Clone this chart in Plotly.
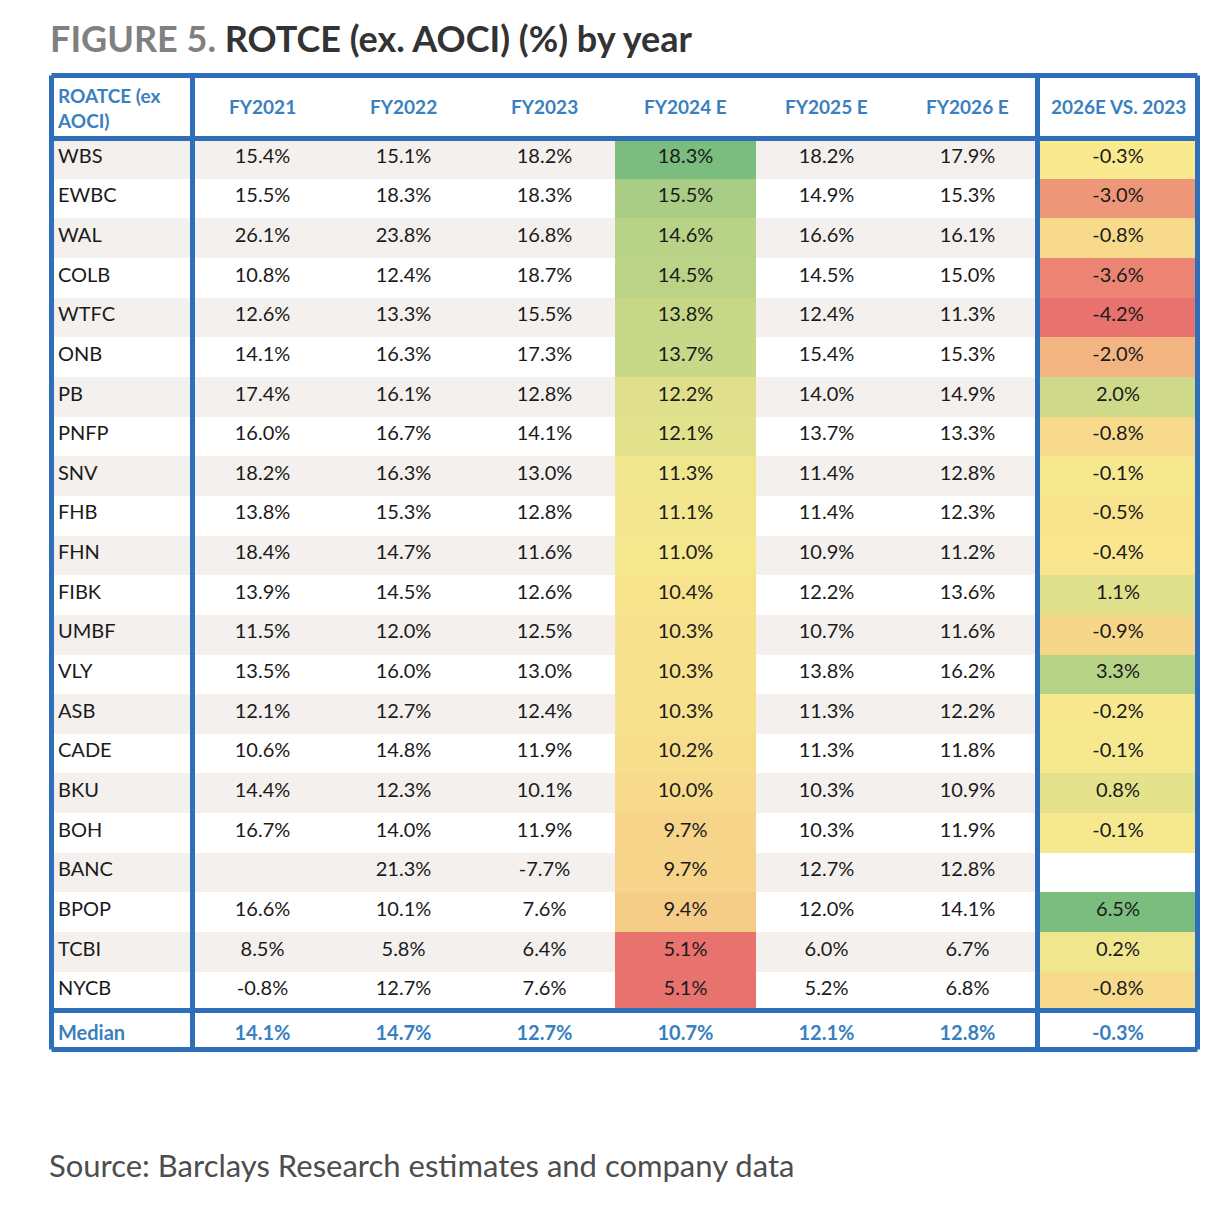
import numpy as np
import plotly.graph_objects as go

# ROTCE (ex. AOCI) by bank, %
tickers = ["WBS", "EWBC", "WAL", "COLB", "WTFC", "ONB", "PB", "PNFP", "SNV", "FHB", "FHN",
           "FIBK", "UMBF", "VLY", "ASB", "CADE", "BKU", "BOH", "BANC", "BPOP", "TCBI", "NYCB"]
fy2021 = [15.4, 15.5, 26.1, 10.8, 12.6, 14.1, 17.4, 16.0, 18.2, 13.8, 18.4,
          13.9, 11.5, 13.5, 12.1, 10.6, 14.4, 16.7, None, 16.6, 8.5, -0.8]
fy2022 = [15.1, 18.3, 23.8, 12.4, 13.3, 16.3, 16.1, 16.7, 16.3, 15.3, 14.7,
          14.5, 12.0, 16.0, 12.7, 14.8, 12.3, 14.0, 21.3, 10.1, 5.8, 12.7]
fy2023 = [18.2, 18.3, 16.8, 18.7, 15.5, 17.3, 12.8, 14.1, 13.0, 12.8, 11.6,
          12.6, 12.5, 13.0, 12.4, 11.9, 10.1, 11.9, -7.7, 7.6, 6.4, 7.6]
fy2024e = [18.3, 15.5, 14.6, 14.5, 13.8, 13.7, 12.2, 12.1, 11.3, 11.1, 11.0,
           10.4, 10.3, 10.3, 10.3, 10.2, 10.0, 9.7, 9.7, 9.4, 5.1, 5.1]
fy2025e = [18.2, 14.9, 16.6, 14.5, 12.4, 15.4, 14.0, 13.7, 11.4, 11.4, 10.9,
           12.2, 10.7, 13.8, 11.3, 11.3, 10.3, 10.3, 12.7, 12.0, 6.0, 5.2]
fy2026e = [17.9, 15.3, 16.1, 15.0, 11.3, 15.3, 14.9, 13.3, 12.8, 12.3, 11.2,
           13.6, 11.6, 16.2, 12.2, 11.8, 10.9, 11.9, 12.8, 14.1, 6.7, 6.8]
chg_2026_vs_2023 = [-0.3, -3.0, -0.8, -3.6, -4.2, -2.0, 2.0, -0.8, -0.1, -0.5, -0.4,
                    1.1, -0.9, 3.3, -0.2, -0.1, 0.8, -0.1, None, 6.5, 0.2, -0.8]
medians = [14.1, 14.7, 12.7, 10.7, 12.1, 12.8, -0.3]
headers = ["ROATCE (ex<br>AOCI)", "FY2021", "FY2022", "FY2023", "FY2024 E",
           "FY2025 E", "FY2026 E", "2026E VS. 2023"]

OFF = 8  # page body margin
W, H = 1230 - 2 * OFF, 1210 - 2 * OFF
BLUE = "#2f6fba"
HEAD_BLUE = "#3a80c0"
GREY = "#f3f0ee"
RED, YEL, GRN = (232, 114, 110), (249, 233, 143), (123, 189, 127)


def px(x):
    return (x - OFF) / W


def py(y):
    return 1 - (y - OFF) / H


def heat(vals):
    nums = [v for v in vals if v is not None]
    lo, mid, hi = min(nums), float(np.median(nums)), max(nums)
    out = []
    for v in vals:
        if v is None:
            out.append("white")
            continue
        if v <= mid:
            t, a, b = (v - lo) / (mid - lo), RED, YEL
        else:
            t, a, b = (v - mid) / (hi - mid), YEL, GRN
        c = [round(a[i] + (b[i] - a[i]) * t) for i in range(3)]
        out.append("rgb(%d,%d,%d)" % tuple(c))
    return out


def fmt(vals):
    return ["" if v is None else f"{v:.1f}%" for v in vals]


n = len(tickers)
band = [GREY if i % 2 == 0 else "white" for i in range(n)] + ["white"]
series = [fy2021, fy2022, fy2023, fy2024e, fy2025e, fy2026e, chg_2026_vs_2023]

values = [tickers + ["<b>Median</b>"]]
for s, m in zip(series, medians):
    values.append(fmt(s) + [f"<b>{m:.1f}%</b>"])

fills = [band] * 4 + [heat(fy2024e) + ["white"]] + [band] * 2 + [heat(chg_2026_vs_2023) + ["white"]]
font_colors = [["#1a1a1a"] * n + [HEAD_BLUE]] * 8

colw = [142, 141, 141, 141, 141, 141, 141, 160]
x0, y0 = 50, 76
row_h, head_h = 39.64, 62

fig = go.Figure(go.Table(
    domain=dict(x=[px(x0), px(x0 + sum(colw))], y=[py(1090), py(y0)]),
    columnwidth=colw,
    header=dict(values=[f"<b>{headers[0]}</b>"] + [""] * 7, height=head_h,
                fill_color="white", line_width=0,
                align="left",
                font=dict(family="Lato", size=19, color=HEAD_BLUE)),
    cells=dict(values=values, height=row_h, fill_color=fills,
               line=dict(width=1, color=fills),
               align=["left"] + ["center"] * 7,
               font=dict(family="Lato", size=20, color=font_colors)),
))

# column header labels, vertically centred in the header band
edges = np.cumsum([x0] + colw)
for i in range(1, len(headers)):
    fig.add_annotation(x=px((edges[i] + edges[i + 1]) / 2), y=py(107),
                       xref="paper", yref="paper", showarrow=False,
                       xanchor="center", yanchor="middle",
                       text=f"<b>{headers[i]}</b>",
                       font=dict(family="Lato", size=19, color=HEAD_BLUE))


# thick blue frame lines
def line(xa, ya, xb, yb):
    fig.add_shape(type="line", xref="paper", yref="paper",
                  x0=px(xa), y0=py(ya), x1=px(xb), y1=py(yb),
                  line=dict(color=BLUE, width=5))


top, bot = 75.5, 1049.5
left, right = 51.5, 1197.5
line(left, top, right, top)
line(left, bot, right, bot)
line(left, top, left, bot)
line(right, top, right, bot)
line(192.5, top, 192.5, bot)
line(1037.5, top, 1037.5, bot)
line(left, 138.5, right, 138.5)
line(left, 1010.5, right, 1010.5)

fig.add_annotation(x=px(48), y=py(38), xref="paper", yref="paper",
                   xanchor="left", yanchor="middle", showarrow=False,
                   text="<span style='color:#808080'>FIGURE 5.</span> ROTCE (ex. AOCI) (%) by year",
                   font=dict(family="Lato", size=36, color="#333333", weight="bold"))
fig.add_annotation(x=px(47), y=py(1165), xref="paper", yref="paper",
                   xanchor="left", yanchor="middle", showarrow=False,
                   text="Source: Barclays Research estimates and company data",
                   font=dict(family="Lato", size=31, color="#4d4d4d"))

fig.update_layout(width=W, height=H, margin=dict(l=0, r=0, t=0, b=0),
                  paper_bgcolor="white", plot_bgcolor="white")
fig.write_html("out.html")
